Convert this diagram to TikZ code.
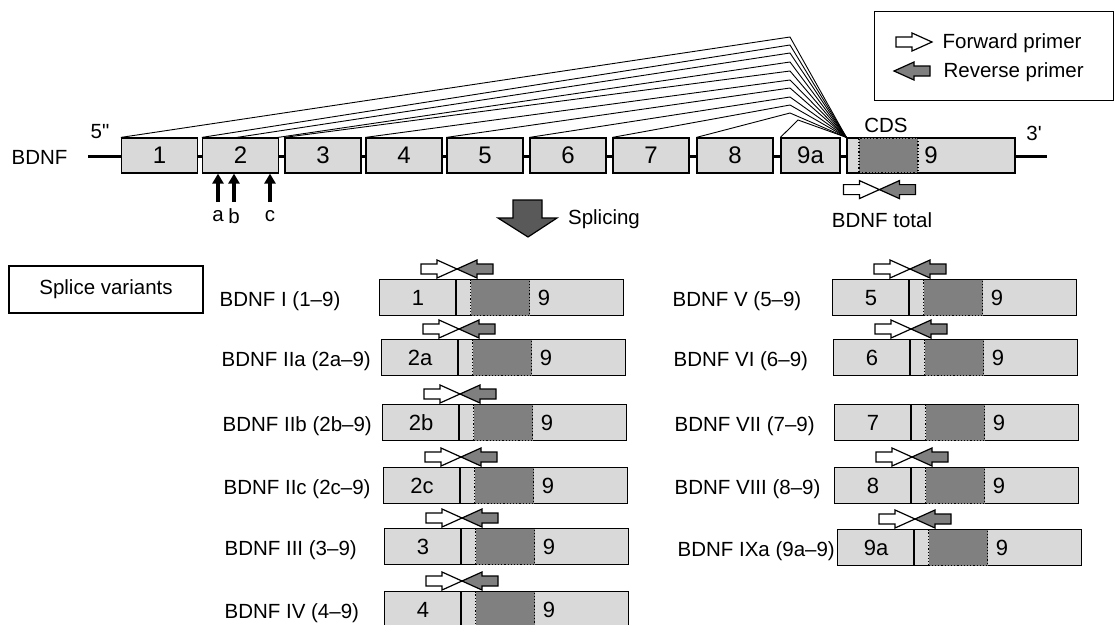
\documentclass[tikz,border=0pt]{standalone}
\usepackage{fontspec}
\setmainfont{Liberation Sans}
\usetikzlibrary{positioning, arrows.meta, calc}
\definecolor{exongray}{HTML}{D9D9D9}
\definecolor{cdsgray}{HTML}{808080}
\definecolor{revgray}{HTML}{7F7F7F}
\definecolor{splicegray}{HTML}{595959}

\begin{document}
\begin{tikzpicture}[
        x=1pt, y=-1pt, line width=1.2pt,
        font=\fontsize{20.5}{24}\selectfont,
        exon/.style={draw, fill=exongray, minimum width=76pt, minimum height=35pt, inner sep=0pt, font=\fontsize{24}{28}\selectfont},
        cdsbox/.style={draw, dotted, fill=cdsgray, minimum width=59pt, minimum height=36pt, inner sep=0pt},
        vbox/.style={draw, fill=exongray, minimum width=244pt, minimum height=36pt, inner sep=0pt},
        vnum/.style={inner sep=0pt, font=\fontsize{22}{26}\selectfont},
        lbl/.style={inner sep=0pt, anchor=west},
        fan/.style={line width=0.9pt},
        backbone/.style={line width=3.5pt},
        uparr/.style={line width=4.5pt, -{Triangle[width=11pt, length=10pt]}},
        fwd/.pic={\draw[fill=white] (-36,-5) -- (-20,-5) -- (-20,-9) -- (0,0) -- (-20,9) -- (-20,5) -- (-36,5) -- cycle;},
        rev/.pic={\draw[fill=revgray] (36,-5) -- (20,-5) -- (20,-9) -- (0,0) -- (20,9) -- (20,5) -- (36,5) -- cycle;},
        primers/.pic={\pic {fwd}; \pic {rev};}
    ]
    \useasboundingbox (0,0) rectangle (1115,624);

    % gene with exons
    \coordinate (five) at (88,156.5);
    \coordinate (three) at (1047,156.5);
    \draw[backbone] (five) -- (three);
    \node[anchor=east, inner sep=0pt] (gene) at (68,157) {BDNF};
    \node (fivelab) at (100,132) {5\textquotedbl};
    \node (threelab) at (1034,133) {3\textquotesingle};

    \foreach \i/\cx in {1/159.5, 2/240.5, 3/323, 4/404, 5/485, 6/568, 7/651, 8/735}
        \node[exon] (e\i) at (\cx,155.5) {\i};
    \node[exon, minimum width=59pt] (e9a) at (810.5,155.5) {9a};
    \node[exon, minimum width=168pt] (e9) at (931,155.5) {9};
    \node[cdsbox, minimum height=35pt] (cds) at (888.5,155.5) {};
    \node (cdslab) at (886,125) {CDS};

    % alternative first exons joined to exon 9
    \coordinate (pb) at (233,138);
    \coordinate (pc) at (274,138);
    \foreach \s/\p in {e1.north west/37, e2.north west/45, pb/53, pc/62, e3.north west/71,
                       e4.north west/80, e5.north west/88, e6.north west/97, e7.north west/105, e8.north west/113}
        \draw[fan] (\s) -- (790,\p) -- (e9.north west);
    \draw[fan] (e9a.north west) -- (798,120) -- (e9.north west);

    % promoter sites in exon 2
    \node[inner sep=0pt] (la) at (218,216) {a};
    \node[inner sep=0pt] (lb) at (234,216) {b};
    \node[inner sep=0pt] (lc) at (270,216) {c};
    \foreach \l in {la, lb, lc}
        \draw[uparr] (\l.center |- 0,202) -- (\l.center |- e2.south);

    % total primers
    \pic at ([shift={(33,16)}]e9.south west) {primers};
    \node (total) at (882,220) {BDNF total};

    % legend
    \node[draw, anchor=north west, minimum width=239pt, minimum height=89pt] (legend) at (874,11) {};
    \pic at (932,42) {fwd};
    \node[lbl] (fwdlab) at (942,43) {Forward primer};
    \pic at (894,71) {rev};
    \node[lbl] (revlab) at (943,72) {Reverse primer};

    % splicing
    \draw[fill=splicegray] (513,200) -- (542,200) -- (542,218) -- (557,218) -- (528,237) -- (498,218) -- (513,218) -- cycle;
    \node (splice) at (604,219) {Splicing};

    % splice variants
    \node[draw, minimum width=194pt, minimum height=47pt] (variants) at (106,289.5) {Splice variants};
    \foreach \v/\bx/\by/\ex/\lab/\pr in {
        1/379/279/1/BDNF I (1–9)/1,
        2/381/339/2a/BDNF IIa (2a–9)/1,
        3/382/404/2b/BDNF IIb (2b–9)/1,
        4/383/467/2c/BDNF IIc (2c–9)/1,
        5/384/528/3/BDNF III (3–9)/1,
        6/384/591/4/BDNF IV (4–9)/1,
        7/832/279/5/BDNF V (5–9)/1,
        8/833/339/6/BDNF VI (6–9)/1,
        9/834/404/7/BDNF VII (7–9)/0,
        10/834/467/8/BDNF VIII (8–9)/1,
        11/837/529/9a/BDNF IXa (9a–9)/1}{
        \node[lbl] (l\v) at (\bx-160,\by+22) {\lab};
        \node[vbox, anchor=north west] (v\v) at (\bx,\by) {};
        \node[cdsbox, anchor=north west] (c\v) at ([xshift=91pt]v\v.north west) {};
        \draw ([xshift=77pt]v\v.north west) -- ([xshift=77pt]v\v.south west);
        \node[vnum] (x\v) at ([xshift=39pt]v\v.west) {\ex};
        \node[vnum] (n\v) at ([xshift=165pt]v\v.west) {9};
        \ifnum\pr=1 \pic at ([shift={(78,-10)}]v\v.north west) {primers}; \fi
    }
\end{tikzpicture}
\end{document}
